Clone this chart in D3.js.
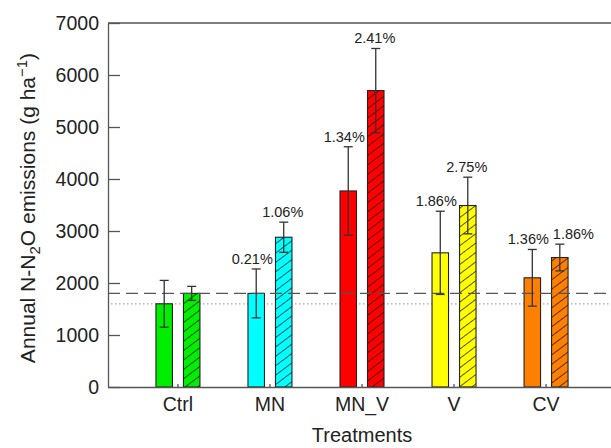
<!DOCTYPE html>
<html>
<head>
<meta charset="utf-8">
<script src="https://cdn.jsdelivr.net/npm/d3@7"></script>
<style>
  html, body { margin: 0; padding: 0; background: #fff; }
  svg { display: block; font-family: "Liberation Sans", Arial, sans-serif; }
</style>
</head>
<body>
<svg id="chart" width="611" height="448"></svg>
<script>
// ---- data ----
const categories = ["Ctrl", "MN", "MN_V", "V", "CV"];
const colors = ["#00ee00", "#00ffff", "#ff0000", "#ffff00", "#ff8000"];
const solidValues = [1600, 1800, 3770, 2580, 2100];
const solidErrors = [450, 470, 850, 800, 545];
const hatchValues = [1800, 2880, 5700, 3490, 2490];
const hatchErrors = [135, 290, 810, 545, 257];
const solidLabels = [null, "0.21%", "1.34%", "1.86%", "1.36%"];
const hatchLabels = [null, "1.06%", "2.41%", "2.75%", "1.86%"];
const yTicks = [0, 1000, 2000, 3000, 4000, 5000, 6000, 7000];

// ---- layout ----
const svg = d3.select("#chart");
const mLeft = 108, mRight = 616, mTop = 23, mBottom = 387;

const x = d3.scaleBand().domain(categories).range([mLeft, mRight]).paddingInner(0).paddingOuter(0.26);
const x1 = d3.scaleBand().domain(["solid", "hatch"]).range([-22, 22]).paddingInner(0.4).paddingOuter(0);
const y = d3.scaleLinear().domain([0, 7000]).range([mBottom, mTop]);

// hatch pattern
const defs = svg.append("defs");
const pat = defs.append("pattern").attr("id", "hatch").attr("patternUnits", "userSpaceOnUse")
  .attr("width", 7.5).attr("height", 7.5).attr("patternTransform", "rotate(-37)");
pat.append("line").attr("x1", 0).attr("y1", 0).attr("x2", 7.5).attr("y2", 0)
  .attr("stroke", "#111").attr("stroke-width", 1.4);

// rows
const rows = categories.map((c, i) => ([
  { cat: c, kind: "solid", v: solidValues[i], e: solidErrors[i], lab: solidLabels[i], color: colors[i] },
  { cat: c, kind: "hatch", v: hatchValues[i], e: hatchErrors[i], lab: hatchLabels[i], color: colors[i] }
])).flat();

const bx = d => x(d.cat) + x.bandwidth() / 2 + x1(d.kind);
const cx = d => bx(d) + x1.bandwidth() / 2;

// reference dotted line (Ctrl solid level)
svg.append("line").attr("x1", mLeft + 3).attr("x2", mRight).attr("y1", y(solidValues[0])).attr("y2", y(solidValues[0]))
  .attr("stroke", "#aaa").attr("stroke-width", 1.2).attr("stroke-dasharray", "1.5,2.5");

// bars
const g = svg.append("g");
g.selectAll("rect.fill").data(rows).join("rect").attr("class", "fill")
  .attr("x", bx).attr("width", x1.bandwidth())
  .attr("y", d => y(d.v)).attr("height", d => y(0) - y(d.v))
  .attr("fill", d => d.color).attr("stroke", "none");
g.selectAll("rect.hatch").data(rows.filter(d => d.kind === "hatch")).join("rect").attr("class", "hatch")
  .attr("x", bx).attr("width", x1.bandwidth())
  .attr("y", d => y(d.v)).attr("height", d => y(0) - y(d.v))
  .attr("fill", "url(#hatch)");
g.selectAll("rect.outline").data(rows).join("rect").attr("class", "outline")
  .attr("x", bx).attr("width", x1.bandwidth())
  .attr("y", d => y(d.v)).attr("height", d => y(0) - y(d.v))
  .attr("fill", "none").attr("stroke", "#222").attr("stroke-width", 1.1);

// dashed line (Ctrl hatched level)
svg.append("line").attr("x1", mLeft).attr("x2", mRight).attr("y1", y(hatchValues[0])).attr("y2", y(hatchValues[0]))
  .attr("stroke", "#555").attr("stroke-width", 1.4).attr("stroke-dasharray", "12,6");

// error bars
const eb = svg.append("g").attr("stroke", "#333").attr("stroke-width", 1.3);
rows.forEach(d => {
  const xc = cx(d), y1 = y(d.v + d.e), y2 = y(d.v - d.e);
  eb.append("line").attr("x1", xc).attr("x2", xc).attr("y1", y1).attr("y2", y2);
  eb.append("line").attr("x1", xc - 4.5).attr("x2", xc + 4.5).attr("y1", y1).attr("y2", y1);
  eb.append("line").attr("x1", xc - 4.5).attr("x2", xc + 4.5).attr("y1", y2).attr("y2", y2);
});

// percentage labels with simple collision nudge
const labG = svg.append("g").attr("font-size", 14.5).attr("fill", "#222").attr("text-anchor", "middle");
const labs = rows.filter(d => d.lab).map(d => ({ d, x: cx(d) - (d.kind === "solid" ? 4 : 1), y: y(d.v + d.e) - 5 }));
labs.forEach(l => {
  l.node = labG.append("text").attr("x", l.x).attr("y", l.y).text(l.d.lab);
  l.w = l.node.node().getComputedTextLength();
});
for (let i = 1; i < labs.length; i++) {
  const a = labs[i - 1], b = labs[i];
  if (a.d.cat === b.d.cat && Math.abs(a.y - b.y) < 14) {
    const overlap = (a.x + a.w / 2 + 4) - (b.x - b.w / 2);
    if (overlap > 0) { b.x += overlap; b.node.attr("x", b.x); }
  }
}

// frame top
svg.append("line").attr("x1", mLeft).attr("x2", mRight).attr("y1", mTop).attr("y2", mTop).attr("stroke", "#555").attr("stroke-width", 1.3);

// y axis
const yAxis = svg.append("g").attr("transform", `translate(${mLeft},0)`)
  .call(d3.axisLeft(y).tickValues(yTicks).tickSizeInner(-12).tickSizeOuter(0).tickPadding(9).tickFormat(d3.format("d")));
yAxis.select(".domain").attr("stroke", "#555").attr("stroke-width", 1.3);
yAxis.selectAll(".tick line").attr("stroke", "#555").attr("stroke-width", 1.3);
yAxis.selectAll(".tick text").attr("font-size", 19.5).attr("fill", "#222").attr("font-family", "Liberation Sans, Arial, sans-serif");

// x axis
const xAxis = svg.append("g").attr("transform", `translate(0,${mBottom})`)
  .call(d3.axisBottom(x).tickSizeInner(-3).tickSizeOuter(0).tickPadding(10));
xAxis.select(".domain").attr("stroke", "#555").attr("stroke-width", 1.3);
xAxis.selectAll(".tick line").attr("stroke", "#555").attr("stroke-width", 1.3);
xAxis.selectAll(".tick text").attr("font-size", 19.5).attr("fill", "#222").attr("dy", "0.71em")
  .attr("font-family", "Liberation Sans, Arial, sans-serif");

// axis titles
svg.append("text").attr("x", (mLeft + mRight) / 2).attr("y", 442).attr("text-anchor", "middle")
  .attr("font-size", 20).attr("fill", "#222").text("Treatments");

const yt = svg.append("text").attr("transform", "translate(35,208) rotate(-90)")
  .attr("text-anchor", "middle").attr("font-size", 21).attr("fill", "#222");
yt.append("tspan").text("Annual N-N");
yt.append("tspan").attr("font-size", 15).attr("dy", 5).text("2");
yt.append("tspan").attr("dy", -5).text("O emissions (g ha");
yt.append("tspan").attr("font-size", 15).attr("dy", -8).text("−1");
yt.append("tspan").attr("dy", 8).text(")");
</script>
</body>
</html>
